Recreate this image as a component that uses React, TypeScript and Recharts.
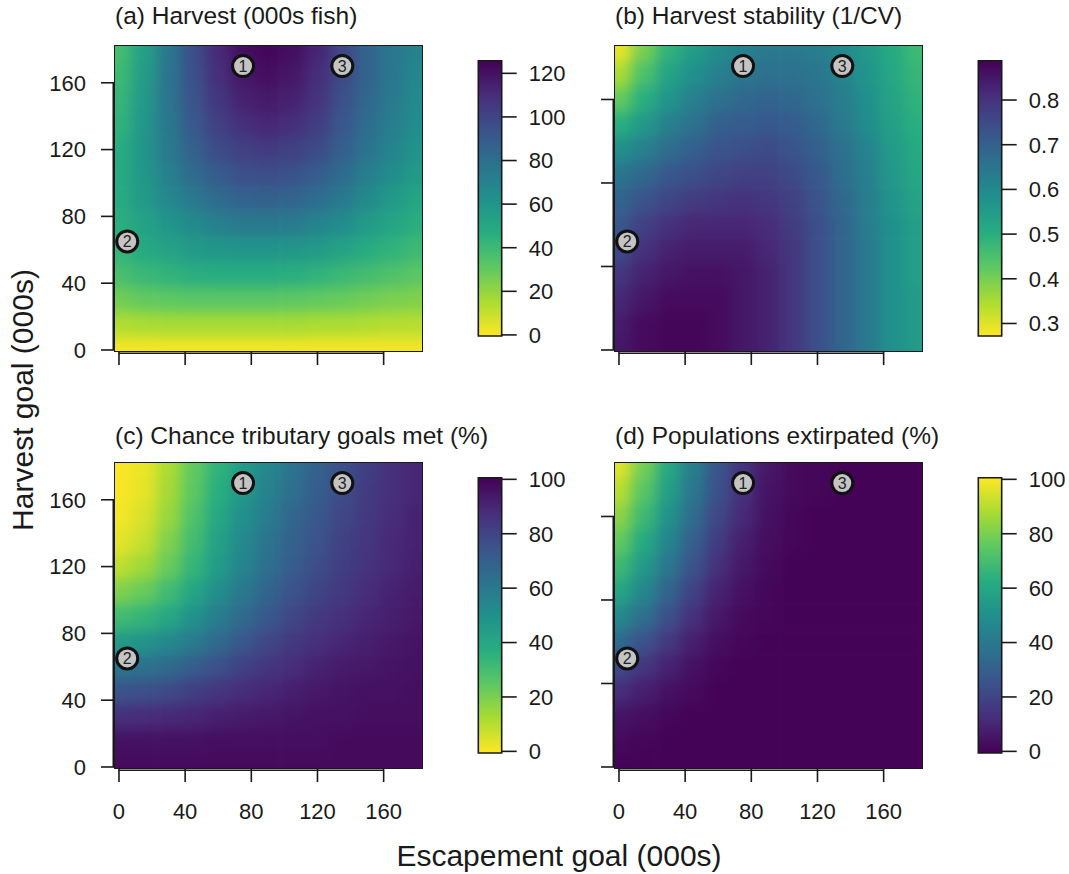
import React from 'react'
import { ScatterChart, Scatter, XAxis, YAxis, ReferenceLine, ReferenceArea } from 'recharts'

// goal grid (000s) used on both axes
const goalSteps = [0, 15, 30, 45, 60, 75, 90, 105, 120, 135, 150, 165, 180]

// each matrix: rows go from harvest goal 180 (top) down to 0, columns escapement 0 -> 180
const harvestRows = [
  [38, 54, 76, 96, 111, 121, 124, 121, 113, 99, 86, 76, 70],
  [40, 56, 77, 95, 109, 118, 121, 118, 110, 98, 86, 76, 68],
  [42, 58, 77, 93, 106, 114, 117, 114, 107, 95, 84, 74, 66],
  [44, 59, 76, 91, 102, 109, 112, 109, 103, 92, 81, 72, 64],
  [47, 60, 74, 87, 97, 102, 104, 102, 97, 88, 78, 69, 61],
  [48, 59, 71, 82, 90, 95, 96, 94, 89, 82, 72, 64, 57],
  [48, 57, 67, 75, 82, 86, 87, 85, 81, 74, 66, 58, 51],
  [46, 53, 60, 66, 71, 74, 74, 73, 69, 64, 57, 51, 46],
  [43, 49, 53, 57, 59, 60, 60, 59, 57, 53, 48, 44, 40],
  [37, 41, 44, 46, 47, 47, 47, 46, 44, 41, 38, 35, 32],
  [27, 30, 31, 32, 32, 32, 32, 31, 30, 29, 27, 25, 24],
  [14, 15, 16, 16, 16, 16, 16, 16, 15, 15, 14, 13, 13],
  [1, 1, 1, 1, 1, 1, 1, 1, 1, 1, 1, 1, 1],
]

const stabilityRows = [
  [0.29, 0.4, 0.49, 0.55, 0.59, 0.62, 0.64, 0.64, 0.63, 0.6, 0.56, 0.51, 0.47],
  [0.35, 0.45, 0.53, 0.58, 0.62, 0.65, 0.66, 0.66, 0.65, 0.61, 0.57, 0.52, 0.48],
  [0.42, 0.5, 0.57, 0.62, 0.66, 0.68, 0.69, 0.68, 0.66, 0.63, 0.58, 0.53, 0.49],
  [0.5, 0.56, 0.62, 0.66, 0.7, 0.71, 0.72, 0.71, 0.68, 0.64, 0.59, 0.54, 0.5],
  [0.58, 0.62, 0.67, 0.7, 0.73, 0.74, 0.75, 0.73, 0.7, 0.66, 0.61, 0.55, 0.51],
  [0.65, 0.68, 0.72, 0.74, 0.76, 0.77, 0.77, 0.75, 0.72, 0.67, 0.62, 0.56, 0.52],
  [0.69, 0.73, 0.76, 0.78, 0.79, 0.8, 0.79, 0.77, 0.73, 0.68, 0.63, 0.57, 0.53],
  [0.72, 0.77, 0.8, 0.82, 0.82, 0.82, 0.81, 0.78, 0.74, 0.69, 0.63, 0.58, 0.54],
  [0.75, 0.8, 0.83, 0.84, 0.84, 0.84, 0.82, 0.79, 0.74, 0.69, 0.64, 0.58, 0.54],
  [0.79, 0.83, 0.85, 0.86, 0.86, 0.85, 0.83, 0.79, 0.74, 0.69, 0.64, 0.58, 0.54],
  [0.82, 0.85, 0.87, 0.87, 0.87, 0.85, 0.83, 0.79, 0.74, 0.69, 0.64, 0.58, 0.55],
  [0.84, 0.87, 0.88, 0.88, 0.87, 0.85, 0.83, 0.79, 0.74, 0.69, 0.64, 0.58, 0.55],
  [0.85, 0.87, 0.88, 0.88, 0.87, 0.85, 0.83, 0.79, 0.74, 0.69, 0.64, 0.58, 0.55],
]

const tribGoalRows = [
  [0, 2, 12, 24, 35, 45, 54, 62, 69, 76, 82, 87, 90],
  [0, 3, 13, 25, 37, 47, 56, 64, 71, 77, 83, 87, 90],
  [1, 5, 15, 28, 40, 50, 59, 67, 73, 79, 84, 88, 91],
  [3, 8, 19, 31, 43, 53, 62, 69, 75, 81, 85, 89, 91],
  [9, 14, 23, 34, 45, 55, 64, 71, 77, 82, 86, 89, 92],
  [19, 23, 31, 41, 51, 60, 68, 75, 80, 84, 88, 91, 93],
  [31, 34, 40, 49, 58, 66, 73, 79, 84, 87, 90, 92, 94],
  [45, 48, 53, 59, 66, 73, 79, 84, 87, 90, 92, 94, 95],
  [61, 63, 66, 71, 76, 81, 85, 88, 91, 93, 94, 95, 96],
  [75, 76, 78, 82, 85, 88, 90, 92, 94, 95, 96, 96, 97],
  [87, 88, 89, 90, 92, 93, 94, 95, 96, 96, 97, 97, 97],
  [96, 96, 96, 96, 97, 97, 97, 97, 97, 98, 98, 98, 98],
  [98, 98, 98, 98, 98, 98, 98, 98, 98, 98, 98, 98, 98],
]

const extirpatedRows = [
  [96, 79, 60, 42, 26, 14, 6, 2, 1, 0, 0, 0, 0],
  [90, 74, 56, 39, 24, 13, 5, 2, 1, 0, 0, 0, 0],
  [83, 68, 51, 35, 21, 11, 4, 1, 0, 0, 0, 0, 0],
  [76, 61, 45, 30, 17, 8, 3, 1, 0, 0, 0, 0, 0],
  [68, 54, 39, 25, 13, 6, 2, 0, 0, 0, 0, 0, 0],
  [59, 46, 32, 19, 9, 4, 1, 0, 0, 0, 0, 0, 0],
  [47, 36, 24, 13, 6, 2, 1, 0, 0, 0, 0, 0, 0],
  [34, 25, 16, 8, 3, 1, 0, 0, 0, 0, 0, 0, 0],
  [22, 15, 9, 4, 1, 0, 0, 0, 0, 0, 0, 0, 0],
  [12, 8, 4, 2, 0, 0, 0, 0, 0, 0, 0, 0, 0],
  [5, 3, 1, 0, 0, 0, 0, 0, 0, 0, 0, 0, 0],
  [2, 1, 0, 0, 0, 0, 0, 0, 0, 0, 0, 0, 0],
  [0, 0, 0, 0, 0, 0, 0, 0, 0, 0, 0, 0, 0],
]

// management scenarios marked on every panel
const scenarioIds = ['1', '2', '3']
const scenarioEscapement = [75, 5, 135]
const scenarioHarvest = [170, 65, 170]

const xTicks = [0, 40, 80, 120, 160]
const yTicksLabelled = [0, 40, 80, 120, 160]
const yTicksBare = [0, 50, 100, 150]
const harvestBarTicks = [0, 20, 40, 60, 80, 100, 120]
const stabilityBarTicks = [0.3, 0.4, 0.5, 0.6, 0.7, 0.8]
const percentBarTicks = [0, 20, 40, 60, 80, 100]

const VIRIDIS = ['#440154', '#472D7B', '#3B528B', '#2C728E', '#21908C', '#27AD81', '#5DC863', '#AADC32', '#FDE725']

const FONT = '"Liberation Sans", Arial, Helvetica, sans-serif'
const INK = '#1a1a1a'

const PANEL_W = 500
const PANEL_H = 416.7
const PLOT_LEFT = 115
const PLOT_TOP = 45.7
const PLOT_W = 306.7
const PLOT_H = 305.3
const X_DOMAIN: [number, number] = [-2.4, 183]
const Y_DOMAIN: [number, number] = [-0.6, 182.2]
const Y_AXIS_W = 100
const X_AXIS_H = 50

const STEP = goalSteps[1] - goalSteps[0]
const CELL_W = (STEP * PLOT_W) / (X_DOMAIN[1] - X_DOMAIN[0])
const CELL_H = (STEP * PLOT_H) / (Y_DOMAIN[1] - Y_DOMAIN[0])

function hexRgb(h: string) {
  const n = parseInt(h.slice(1), 16)
  return [(n >> 16) & 255, (n >> 8) & 255, n & 255]
}

function viridis(t: number) {
  const tt = Math.max(0, Math.min(1, t)) * (VIRIDIS.length - 1)
  const i = Math.min(VIRIDIS.length - 2, Math.floor(tt))
  const f = tt - i
  const a = hexRgb(VIRIDIS[i])
  const b = hexRgb(VIRIDIS[i + 1])
  const c = a.map((v, k) => Math.round(v + (b[k] - v) * f))
  return `rgb(${c[0]},${c[1]},${c[2]})`
}

function scaleColor(lo: number, hi: number, reversed: boolean) {
  return (v: number) => {
    const t = (v - lo) / (hi - lo)
    return viridis(reversed ? 1 - t : t)
  }
}

function toCells(rows: number[][]) {
  const n = goalSteps.length
  const out: { x: number; y: number; v: number; c: number; r: number }[] = []
  rows.forEach((row, r) =>
    row.forEach((v, c) => out.push({ x: goalSteps[c], y: goalSteps[n - 1 - r], v, c, r })),
  )
  return out
}

const scenarios = scenarioIds.map((id, i) => ({ id, x: scenarioEscapement[i], y: scenarioHarvest[i] }))

// edge cells are stretched past the frame so the smoothing doesn't fade at the border
const EDGE_PAD = 30

function heatShape(color: (v: number) => string) {
  const last = goalSteps.length - 1
  return (p: any) => {
    const { cx, cy, payload } = p
    let x0 = cx - CELL_W / 2
    let x1 = cx + CELL_W / 2
    let y0 = cy - CELL_H / 2
    let y1 = cy + CELL_H / 2
    if (payload.c === 0) x0 -= EDGE_PAD
    if (payload.c === last) x1 += EDGE_PAD
    if (payload.r === 0) y0 -= EDGE_PAD
    if (payload.r === last) y1 += EDGE_PAD
    return <rect x={x0} y={y0} width={x1 - x0 + 0.6} height={y1 - y0 + 0.6} fill={color(payload.v)} />
  }
}

const ScenarioMarker = (p: any) => (
  <g>
    <circle cx={p.cx} cy={p.cy} r={10.5} fill="#c4c4c4" stroke="#111" strokeWidth={3} />
    <text x={p.cx} y={p.cy} dy="0.36em" textAnchor="middle" fontSize={16} fill="#222" fontFamily={FONT}>
      {p.payload.id}
    </text>
  </g>
)

type PanelProps = {
  left: number
  top: number
  titleTop: number
  title: string
  rows: number[][]
  color: (v: number) => string
  yTicks: number[]
  yLabels: boolean
  xLabels: boolean
}

// smoothed surface: its own chart, hidden axes, blurred and cut to the plot frame
function HeatSurface({ left, top, rows, color }: { left: number; top: number; rows: number[][]; color: (v: number) => string }) {
  const cells = toCells(rows)
  return (
    <div
      style={{
        position: 'absolute',
        left: left + PLOT_LEFT,
        top: top + PLOT_TOP,
        width: PLOT_W,
        height: PLOT_H,
        overflow: 'hidden',
      }}
    >
      <div style={{ position: 'absolute', left: -PLOT_LEFT, top: -PLOT_TOP, filter: 'blur(7px)' }}>
        <ScatterChart
          width={PANEL_W}
          height={PANEL_H}
          margin={{
            top: PLOT_TOP,
            right: PANEL_W - PLOT_LEFT - PLOT_W,
            bottom: PANEL_H - PLOT_TOP - PLOT_H,
            left: PLOT_LEFT,
          }}
        >
          <XAxis type="number" dataKey="x" domain={X_DOMAIN} hide />
          <YAxis type="number" dataKey="y" domain={Y_DOMAIN} hide />
          <Scatter data={cells} shape={heatShape(color)} isAnimationActive={false} />
        </ScatterChart>
      </div>
    </div>
  )
}

function HeatPanel({ left, top, titleTop, title, rows, color, yTicks, yLabels, xLabels }: PanelProps) {
  const axisX = X_DOMAIN[0] - 1.7 / (PLOT_W / (X_DOMAIN[1] - X_DOMAIN[0]))
  const axisY = Y_DOMAIN[0] - 2.3 / (PLOT_H / (Y_DOMAIN[1] - Y_DOMAIN[0]))
  return (
    <>
      <div
        style={{
          position: 'absolute',
          left: left + PLOT_LEFT,
          top: titleTop,
          fontSize: 24.5,
          lineHeight: '24px',
          whiteSpace: 'nowrap',
          color: INK,
        }}
      >
        {title}
      </div>
      <HeatSurface left={left} top={top} rows={rows} color={color} />
      <div style={{ position: 'absolute', left, top }}>
        <ScatterChart
          width={PANEL_W}
          height={PANEL_H}
          margin={{
            top: PLOT_TOP,
            right: PANEL_W - PLOT_LEFT - PLOT_W,
            bottom: PANEL_H - PLOT_TOP - PLOT_H - X_AXIS_H,
            left: PLOT_LEFT - Y_AXIS_W,
          }}
        >
          <XAxis
            type="number"
            dataKey="x"
            domain={X_DOMAIN}
            ticks={xTicks}
            interval={0}
            height={X_AXIS_H}
            axisLine={false}
            tickSize={14}
            tickMargin={21}
            tickLine={{ stroke: INK, strokeWidth: 1.6 }}
            tick={{ fontSize: 22, fill: INK }}
            tickFormatter={(v: number) => (xLabels ? String(v) : '')}
          />
          <YAxis
            type="number"
            dataKey="y"
            domain={Y_DOMAIN}
            ticks={yTicks}
            interval={0}
            width={Y_AXIS_W}
            axisLine={false}
            tickSize={14}
            tickMargin={15}
            tickLine={{ stroke: INK, strokeWidth: 1.6 }}
            tick={{ fontSize: 22, fill: INK }}
            tickFormatter={(v: number) => (yLabels ? String(v) : '')}
          />
          <ReferenceLine
            segment={[{ x: axisX, y: yTicks[0] }, { x: axisX, y: yTicks[yTicks.length - 1] }]}
            stroke={INK}
            strokeWidth={1.6}
            ifOverflow="visible"
          />
          <ReferenceLine
            segment={[{ x: xTicks[0], y: axisY }, { x: xTicks[xTicks.length - 1], y: axisY }]}
            stroke={INK}
            strokeWidth={1.6}
            ifOverflow="visible"
          />
          <Scatter data={scenarios} shape={ScenarioMarker} isAnimationActive={false} />
        </ScatterChart>
      </div>
      <div
        style={{
          position: 'absolute',
          left: left + PLOT_LEFT - 0.8,
          top: top + PLOT_TOP - 0.8,
          width: PLOT_W,
          height: PLOT_H,
          border: `1.6px solid ${INK}`,
          pointerEvents: 'none',
        }}
      />
    </>
  )
}

type BarProps = {
  left: number
  top: number
  lo: number
  hi: number
  ticks: number[]
  gradient: string
  fmt: (v: number) => string
}

const BAR_W = 125
const BAR_LEFT = 38.3
const BAR_THICK = 23.4
const BAR_TOP = 60.7
const BAR_BOTTOM = 336

function ColourBar({ left, top, lo, hi, ticks, gradient, fmt }: BarProps) {
  return (
    <div style={{ position: 'absolute', left, top }}>
      <ScatterChart
        width={BAR_W}
        height={PANEL_H}
        margin={{ top: BAR_TOP, right: BAR_W - BAR_LEFT - BAR_THICK - 60, bottom: PANEL_H - BAR_BOTTOM, left: BAR_LEFT }}
      >
        <XAxis type="number" dataKey="x" domain={[0, 1]} hide />
        <YAxis
          type="number"
          dataKey="y"
          orientation="right"
          domain={[lo, hi]}
          ticks={ticks}
          interval={0}
          width={60}
          axisLine={false}
          tickSize={15}
          tickMargin={12}
          tickLine={{ stroke: INK, strokeWidth: 1.6 }}
          tick={{ fontSize: 22, fill: INK }}
          tickFormatter={fmt}
        />
        <ReferenceArea
          x1={0}
          x2={1}
          y1={lo}
          y2={hi}
          fill={`url(#${gradient})`}
          fillOpacity={1}
          stroke={INK}
          strokeWidth={1.6}
        />
        <Scatter data={[{ x: 0.5, y: lo }]} shape={() => <g />} isAnimationActive={false} />
      </ScatterChart>
    </div>
  )
}

const harvestColor = scaleColor(-0.5, 125.8, true)
const stabilityColor = scaleColor(0.272, 0.888, true)
const tribColor = scaleColor(-0.6, 100.6, true)
const extirpColor = scaleColor(-0.6, 100.6, false)

export default function App() {
  const stops = VIRIDIS.map((c, i) => ({ c, o: i / (VIRIDIS.length - 1) }))
  return (
    <div
      style={{
        position: 'absolute',
        left: 0,
        top: 0,
        width: 1069,
        height: 874,
        overflow: 'hidden',
        background: '#fff',
        fontFamily: FONT,
        color: INK,
      }}
    >
      <svg width={0} height={0} style={{ position: 'absolute' }}>
        <defs>
          {/* purple at the top: high values */}
          <linearGradient id="bar-rev" x1="0" y1="0" x2="0" y2="1">
            {stops.map((s) => (
              <stop key={s.o} offset={s.o} stopColor={s.c} />
            ))}
          </linearGradient>
          <linearGradient id="bar-fwd" x1="0" y1="1" x2="0" y2="0">
            {stops.map((s) => (
              <stop key={s.o} offset={s.o} stopColor={s.c} />
            ))}
          </linearGradient>
        </defs>
      </svg>

      <HeatPanel
        left={0}
        top={0}
        titleTop={3.5}
        title="(a) Harvest (000s fish)"
        rows={harvestRows}
        color={harvestColor}
        yTicks={yTicksLabelled}
        yLabels
        xLabels={false}
      />
      <HeatPanel
        left={500}
        top={0}
        titleTop={3.5}
        title="(b) Harvest stability (1/CV)"
        rows={stabilityRows}
        color={stabilityColor}
        yTicks={yTicksBare}
        yLabels={false}
        xLabels={false}
      />
      <HeatPanel
        left={0}
        top={PANEL_H}
        titleTop={423.5}
        title="(c) Chance tributary goals met (%)"
        rows={tribGoalRows}
        color={tribColor}
        yTicks={yTicksLabelled}
        yLabels
        xLabels
      />
      <HeatPanel
        left={500}
        top={PANEL_H}
        titleTop={423.5}
        title="(d) Populations extirpated (%)"
        rows={extirpatedRows}
        color={extirpColor}
        yTicks={yTicksBare}
        yLabels={false}
        xLabels
      />

      <ColourBar left={440} top={0} lo={-0.5} hi={125.8} ticks={harvestBarTicks} gradient="bar-rev" fmt={(v) => String(v)} />
      <ColourBar left={940} top={0} lo={0.272} hi={0.888} ticks={stabilityBarTicks} gradient="bar-rev" fmt={(v) => v.toFixed(1)} />
      <ColourBar left={440} top={PANEL_H} lo={-0.6} hi={100.6} ticks={percentBarTicks} gradient="bar-rev" fmt={(v) => String(v)} />
      <ColourBar left={940} top={PANEL_H} lo={-0.6} hi={100.6} ticks={percentBarTicks} gradient="bar-fwd" fmt={(v) => String(v)} />

      <div
        style={{
          position: 'absolute',
          left: 23,
          top: 400,
          fontSize: 30,
          lineHeight: '30px',
          whiteSpace: 'nowrap',
          transform: 'translate(-50%, -50%) rotate(-90deg)',
        }}
      >
        Harvest goal (000s)
      </div>
      <div
        style={{
          position: 'absolute',
          left: 559,
          top: 841,
          fontSize: 30,
          lineHeight: '30px',
          whiteSpace: 'nowrap',
          transform: 'translateX(-50%)',
        }}
      >
        Escapement goal (000s)
      </div>
    </div>
  )
}
